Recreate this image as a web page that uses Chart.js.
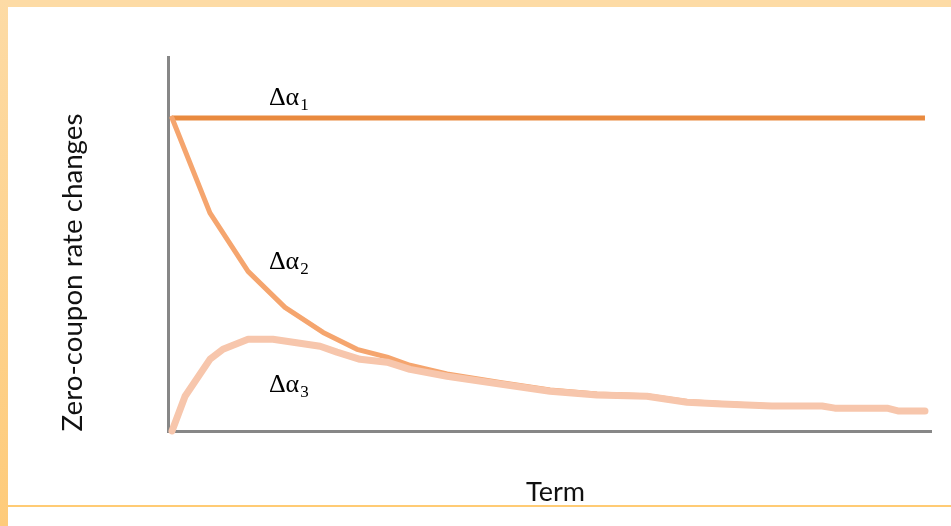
<!DOCTYPE html>
<html>
<head>
<meta charset="utf-8">
<script src="https://cdn.jsdelivr.net/npm/chart.js@4.4.0/dist/chart.umd.min.js"></script>
<style>
  html, body { margin: 0; padding: 0; background: #ffffff; }
  #wrap { position: relative; width: 951px; height: 526px; overflow: hidden; background: #ffffff; }
  #topband { position: absolute; left: 0; top: 0; width: 951px; height: 7px; background: #FDDBA5; }
  #leftband { position: absolute; left: 0; top: 0; width: 8px; height: 526px; background: linear-gradient(#FDDBA5, #FECB7A); }
  #bottomline { position: absolute; left: 8px; top: 505px; width: 943px; height: 2px; background: #FFCB74; }
  canvas { position: absolute; left: 0; top: 0; }
</style>
</head>
<body>
<div id="wrap">
  <canvas id="c" width="951" height="526"></canvas>
  <div id="topband"></div>
  <div id="leftband"></div>
  <div id="bottomline"></div>
</div>
<script>
// ---- Data (term units, value units) ----
const seriesNames = ["Δα1", "Δα2", "Δα3"];

const termsA1 = [0, 30];
const valuesA1 = [1.0, 1.0];

const termsA2 = [0, 1.51, 3.03, 4.50, 6.02, 7.37, 8.57, 9.48, 10.96, 13.07, 15.06, 16.93, 18.92, 20.52, 21.91, 23.90, 25.90, 26.41, 28.49, 28.92, 30];
const valuesA2 = [1.000, 0.697, 0.510, 0.395, 0.315, 0.261, 0.236, 0.210, 0.182, 0.155, 0.131, 0.118, 0.113, 0.094, 0.088, 0.081, 0.081, 0.074, 0.074, 0.065, 0.065];

const termsA3 = [0, 0.52, 1.51, 2.03, 3.03, 4.02, 5.90, 6.57, 7.49, 8.57, 9.48, 10.96, 13.07, 15.06, 16.93, 18.92, 20.52, 21.91, 23.90, 25.90, 26.41, 28.49, 28.92, 30];
const valuesA3 = [0.000, 0.111, 0.229, 0.261, 0.293, 0.293, 0.271, 0.252, 0.229, 0.220, 0.197, 0.175, 0.150, 0.127, 0.115, 0.111, 0.092, 0.086, 0.080, 0.080, 0.073, 0.073, 0.064, 0.064];

const xTitle = "Term";
const yTitle = "Zero-coupon rate changes";

function pts(xs, ys) { return xs.map((x, i) => ({ x: x, y: ys[i] })); }

// ---- Text plugin (axis titles + series labels) ----
function fitFont(ctx, text, family, targetWidth) {
  ctx.font = "100px " + family;
  const w = ctx.measureText(text).width;
  return 100 * targetWidth / w;
}

const labelPlugin = {
  id: "labels",
  afterDraw(chart) {
    const ctx = chart.ctx;
    const xs = chart.scales.x, ys = chart.scales.y;
    ctx.save();
    ctx.fillStyle = "#111111";

    // y axis title
    const ySize = fitFont(ctx, yTitle, "Lato", 318);
    ctx.font = ySize + "px Lato";
    ctx.textAlign = "center";
    ctx.textBaseline = "alphabetic";
    ctx.save();
    ctx.translate(82, 272.5);
    ctx.rotate(-Math.PI / 2);
    ctx.fillText(yTitle, 0, 0);
    ctx.restore();

    // x axis title
    const xSize = fitFont(ctx, xTitle, "Lato", 59);
    ctx.font = xSize + "px Lato";
    ctx.fillText(xTitle, 555.5, 501);

    // series labels: Δα with subscript
    const anchors = [
      { t: 3.86, v: 1.041, sub: "1" },
      { t: 3.86, v: 0.518, sub: "2" },
      { t: 3.86, v: 0.125, sub: "3" }
    ];
    ctx.textAlign = "left";
    ctx.fillStyle = "#000000";
    anchors.forEach(a => {
      const px = xs.getPixelForValue(a.t);
      const py = ys.getPixelForValue(a.v);
      ctx.font = "26px 'Liberation Serif', 'DejaVu Serif', serif";
      ctx.fillText("Δα", px, py);
      const w = ctx.measureText("Δα").width;
      ctx.font = "17px 'Liberation Serif', 'DejaVu Serif', serif";
      ctx.fillText(a.sub, px + w + 1, py + 5);
    });
    ctx.restore();
  }
};

const ctx = document.getElementById("c").getContext("2d");
new Chart(ctx, {
  type: "line",
  data: {
    datasets: [
      {
        label: seriesNames[2],
        data: pts(termsA3, valuesA3),
        borderColor: "#F7C6AC",
        borderWidth: 7,
        pointRadius: 0,
        tension: 0,
        borderCapStyle: "round",
        borderJoinStyle: "round",
        clip: false
      },
      {
        label: seriesNames[1],
        data: pts(termsA2, valuesA2),
        borderColor: "#F5A56E",
        borderWidth: 5,
        pointRadius: 0,
        tension: 0,
        borderCapStyle: "round",
        borderJoinStyle: "round",
        clip: false
      },
      {
        label: seriesNames[0],
        data: pts(termsA1, valuesA1),
        borderColor: "#E98A3F",
        borderWidth: 5,
        pointRadius: 0,
        tension: 0,
        borderCapStyle: "butt",
        clip: false
      }
    ]
  },
  options: {
    responsive: false,
    animation: false,
    devicePixelRatio: 1,
    layout: { padding: { left: 0, top: 57, right: 20, bottom: 0 } },
    plugins: { legend: { display: false }, tooltip: { enabled: false }, title: { display: false } },
    scales: {
      x: {
        type: "linear",
        min: -0.16,
        max: 30.24,
        grid: { display: false },
        ticks: { display: false },
        border: { display: true, color: "#878787", width: 3 },
        afterFit(s) { s.height = 95; }
      },
      y: {
        type: "linear",
        min: 0,
        max: 1.195,
        grid: { display: false },
        ticks: { display: false },
        border: { display: true, color: "#878787", width: 3 },
        afterFit(s) { s.width = 168; }
      }
    }
  },
  plugins: [labelPlugin]
});
</script>
</body>
</html>
